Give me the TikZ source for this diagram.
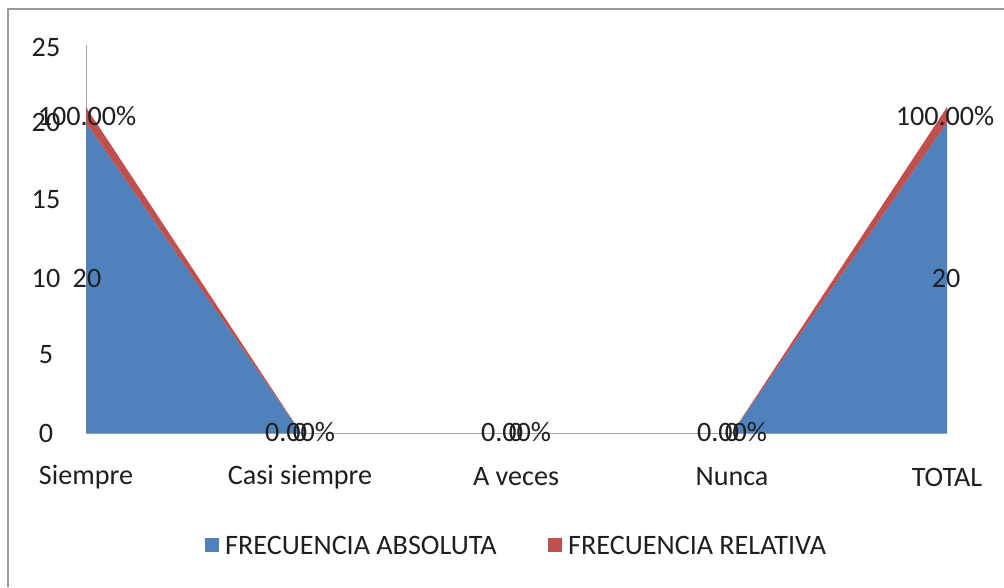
\documentclass[tikz,border=0pt]{standalone}
\usepackage{fontspec}
\setmainfont{Carlito}
\usepackage{tikz}
\usetikzlibrary{positioning}

\definecolor{absblue}{HTML}{4F81BD}
\definecolor{relred}{HTML}{C0504D}
\definecolor{axisgray}{HTML}{A6A6A6}

\begin{document}
\begin{tikzpicture}[x=0.025cm,y=-0.025cm,
                    every node/.style={font=\fontsize{20}{23}\selectfont,text=black!88,inner sep=0pt},
                    legend key/.style={minimum size=10pt,inner sep=0pt}]

  \useasboundingbox (0,0) rectangle (1004,587);
  \draw[gray!80,line width=1.6pt] (8,587) -- (8,9) -- (1004,9);

  % category positions on the zero line
  \coordinate (Siempre) at (86,433);
  \coordinate (Casi) at (301,433);
  \coordinate (Aveces) at (516,433);
  \coordinate (Nunca) at (732,433);
  \coordinate (Total) at (947,433);
  \coordinate (SiempreAbs) at (86,122.6);
  \coordinate (SiempreRel) at (86,107.1);
  \coordinate (TotalAbs) at (947,122.6);
  \coordinate (TotalRel) at (947,107.1);

  % axes
  \draw[axisgray,line width=0.6pt] (86,45) -- (Siempre) -- (Total);

  % areas
  \fill[absblue] (Siempre) -- (SiempreAbs) -- (Casi) -- cycle;
  \fill[absblue] (Nunca) -- (TotalAbs) -- (Total) -- cycle;
  \fill[relred] (SiempreAbs) -- (SiempreRel) -- (Casi) -- cycle;
  \fill[relred] (Nunca) -- (TotalRel) -- (TotalAbs) -- cycle;

  % y axis labels
  \node (y25) at (46,47) {25};
  \node (y20) at (46,122) {20};
  \node (y15) at (46,200) {15};
  \node (y10) at (46,278) {10};
  \node (y5) at (46,355) {5};
  \node (y0) at (46,433) {0};

  % category labels
  \node (catSiempre) at (86,477) {Siempre};
  \node (catCasi) at (300,477) {Casi siempre};
  \node (catAveces) at (516,477) {A veces};
  \node (catNunca) at (732,477) {Nunca};
  \node (catTotal) at (947,477) {TOTAL};

  % data labels
  \node (absSiempre) at (87,278) {20};
  \node (relSiempre) at (87,116) {100.00\%};
  \node (absCasi) at (300,432) {0};
  \node (relCasi) at (300,432) {0.00\%};
  \node (absAveces) at (516,432) {0};
  \node (relAveces) at (516,432) {0.00\%};
  \node (absNunca) at (732,432) {0};
  \node (relNunca) at (732,432) {0.00\%};
  \node (absTotal) at (946,278) {20};
  \node (relTotal) at (945,116) {100.00\%};

  % legend
  \node[legend key,fill=absblue] (keyAbs) at (212,545) {};
  \node[right=4pt of keyAbs] (legAbs) {FRECUENCIA ABSOLUTA};
  \node[legend key,fill=relred] (keyRel) at (555,545) {};
  \node[right=4pt of keyRel] (legRel) {FRECUENCIA RELATIVA};
\end{tikzpicture}
\end{document}
